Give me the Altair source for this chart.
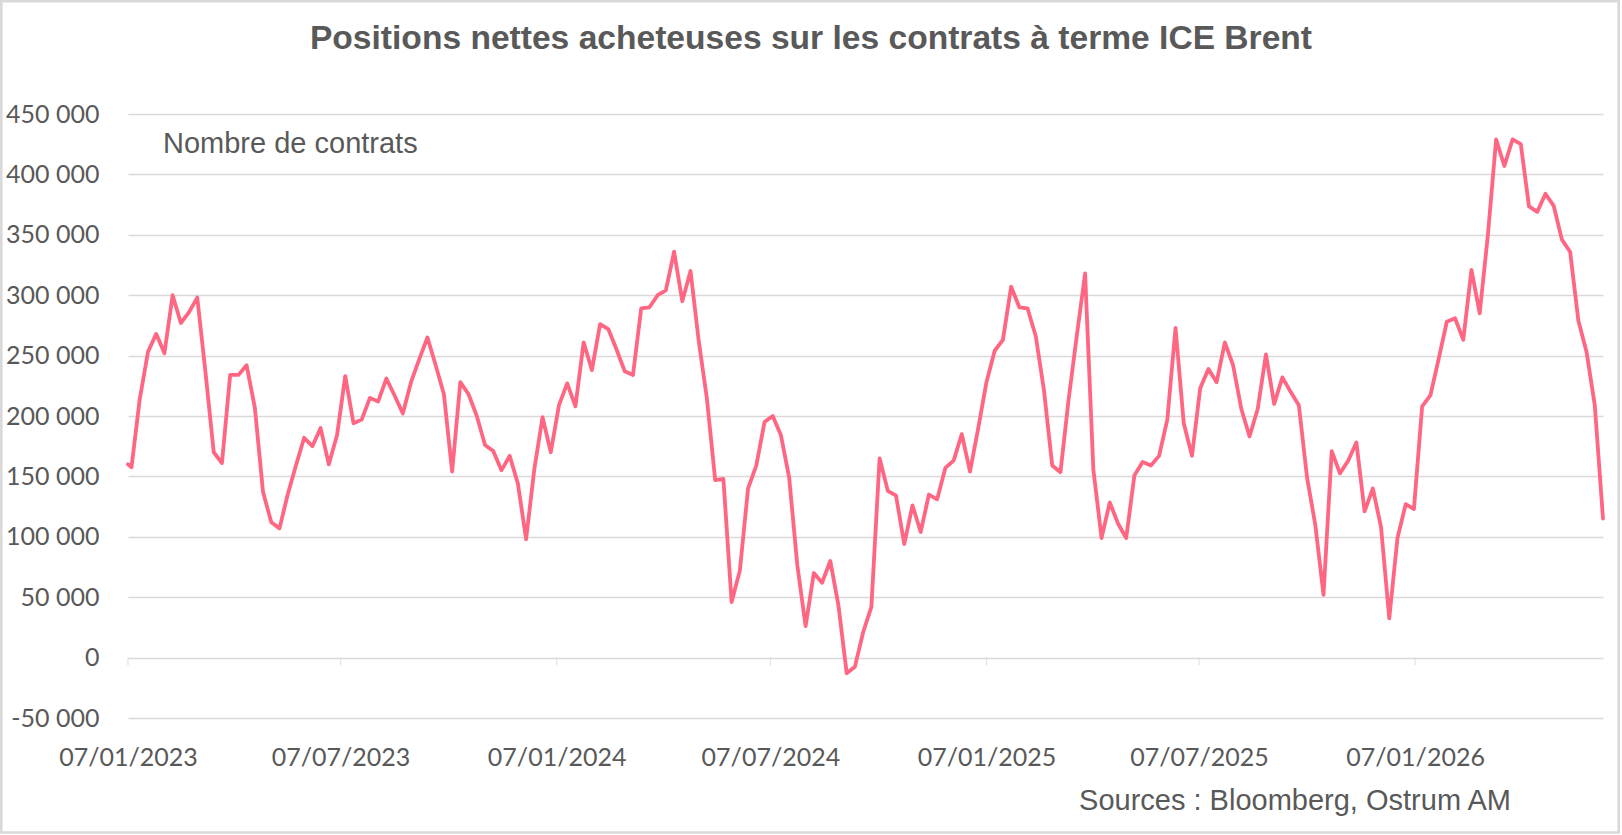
import altair as alt
import pandas as pd

# ---------------- data ----------------
title_text = "Positions nettes acheteuses sur les contrats à terme ICE Brent"
unit_text = "Nombre de contrats"
source_text = "Sources : Bloomberg, Ostrum AM"

first_date = ["2023-01-07"]
weekly_start = "2023-01-10"

# net long positions, in thousands of contracts
net_long_k = [
    160, 157.6, 214, 253, 268, 252, 300, 277, 286, 298,
    236, 170, 161, 234, 234, 242, 207, 137, 112, 107,
    135, 159, 182, 175, 190, 160, 184, 233, 194, 197,
    215, 212, 231, 217, 202, 228, 247, 265, 242, 218,
    154, 228, 218, 200, 176, 171, 155, 167, 144, 98,
    156, 199, 170, 209, 227, 208, 261, 238, 276, 272,
    255, 237, 234, 289, 290, 300, 304, 336, 295, 320,
    262, 214, 147, 148, 46, 72, 140, 159, 195, 200,
    184, 149, 76, 26, 70, 62, 80, 43, -13, -7.5,
    21, 42, 165, 138, 134, 94, 126, 104, 135, 131,
    157, 163, 185, 154, 190, 228, 254, 263, 307, 290,
    289, 266, 221, 159, 153.5, 214, 267, 318, 156, 99,
    128.5, 111, 99, 151, 162, 159, 167, 197, 273, 194,
    167, 223, 239, 228, 261, 242, 206, 183, 206, 251,
    210, 232, 220, 209, 149, 110, 52, 171, 152.5, 163,
    178, 121, 140, 108, 32.5, 99, 127, 123, 208, 217,
    247, 278, 281, 263, 321, 285, 350, 429, 407, 429,
    425, 373.5, 369, 384, 374, 346, 336, 279, 253, 209,
    115,
]

tick_dates = ["2023-01-07", "2023-07-07", "2024-01-07", "2024-07-07",
              "2025-01-07", "2025-07-07", "2026-01-07"]
y_ticks = [-50000, 0, 50000, 100000, 150000, 200000, 250000,
           300000, 350000, 400000, 450000]

dates = first_date + list(
    pd.date_range(weekly_start, periods=len(net_long_k) - 1, freq="7D").strftime("%Y-%m-%d")
)
df = pd.DataFrame({"date": dates, "net": [v * 1000 for v in net_long_k]})
domain_dates = [dates[0], dates[-1]]


def ms(s):
    return int(pd.Timestamp(s, tz="UTC").value // 10**6)


# ---------------- styling ----------------
TEXT = "#595959"
GRID = "#d9d9d9"
LINE = "#ff6682"
AXIS_FONT = "Lato"
TXT_FONT = "Liberation Sans"

x_enc = alt.X(
    "date:T",
    title=None,
    scale=alt.Scale(type="utc", domain=[ms(d) for d in domain_dates]),
    axis=alt.Axis(
        values=[ms(d) for d in tick_dates],
        labelExpr="utcFormat(datum.value, '%d/%m/%Y')",
        grid=False, domain=False, ticks=False, tickSize=0,
        labelPadding=47, labelBaseline="alphabetic",
        labelFont=AXIS_FONT, labelFontSize=25, labelColor=TEXT,
        labelAlign="center", labelOverlap=False, labelFlush=False,
    ),
)

y_enc = alt.Y(
    "net:Q",
    title=None,
    scale=alt.Scale(domain=[-50000, 450000], nice=False, zero=False),
    axis=alt.Axis(
        values=y_ticks,
        labelExpr="datum.value == 0 ? '0' : (datum.value < 0 ? '-' : '') + format(abs(datum.value) / 1000, 'd') + ' 000'",
        grid=True, gridColor=GRID, gridWidth=1.3,
        domain=False, ticks=False, tickSize=0,
        labelPadding=29, labelFont=AXIS_FONT, labelFontSize=25, labelColor=TEXT,
    ),
)

one = pd.DataFrame({"k": [0]})

frame = alt.Chart(one).mark_rect(
    fillOpacity=0, stroke=GRID, strokeWidth=2.6
).encode(
    x=alt.value(-126.7), x2=alt.value(1490.7),
    y=alt.value(-112.7), y2=alt.value(718.5),
)

line = alt.Chart(df).mark_line(
    color=LINE, strokeWidth=3.8, strokeJoin="round", strokeCap="round"
).encode(x=x_enc, y=y_enc)

ticks = alt.Chart(pd.DataFrame({"date": tick_dates})).mark_tick(
    orient="vertical", size=8, thickness=1.3, color=GRID, yOffset=4
).encode(x=alt.X("date:T"), y=alt.datum(0))

title = alt.Chart(pd.DataFrame({"t": [title_text]})).mark_text(
    align="center", baseline="alphabetic", font=TXT_FONT, fontWeight="bold",
    fontSize=33.6, color=TEXT
).encode(text="t:N", x=alt.value(683), y=alt.value(-65))

unit = alt.Chart(pd.DataFrame({"t": [unit_text]})).mark_text(
    align="left", baseline="alphabetic", font=TXT_FONT, fontSize=29, color=TEXT
).encode(text="t:N", x=alt.value(35), y=alt.value(39))

source = alt.Chart(pd.DataFrame({"t": [source_text]})).mark_text(
    align="right", baseline="alphabetic", font=TXT_FONT, fontSize=29, color=TEXT
).encode(text="t:N", x=alt.value(1383), y=alt.value(696))

chart = alt.layer(frame, ticks, line, title, unit, source).properties(
    width=1475,
    height=604,
    autosize=alt.AutoSizeParams(type="none"),
    padding={"left": 128, "top": 114, "right": 19, "bottom": 117},
    background="white",
).configure_view(stroke="transparent")

chart.save("out.html", embed_options={"renderer": "svg", "actions": False})
